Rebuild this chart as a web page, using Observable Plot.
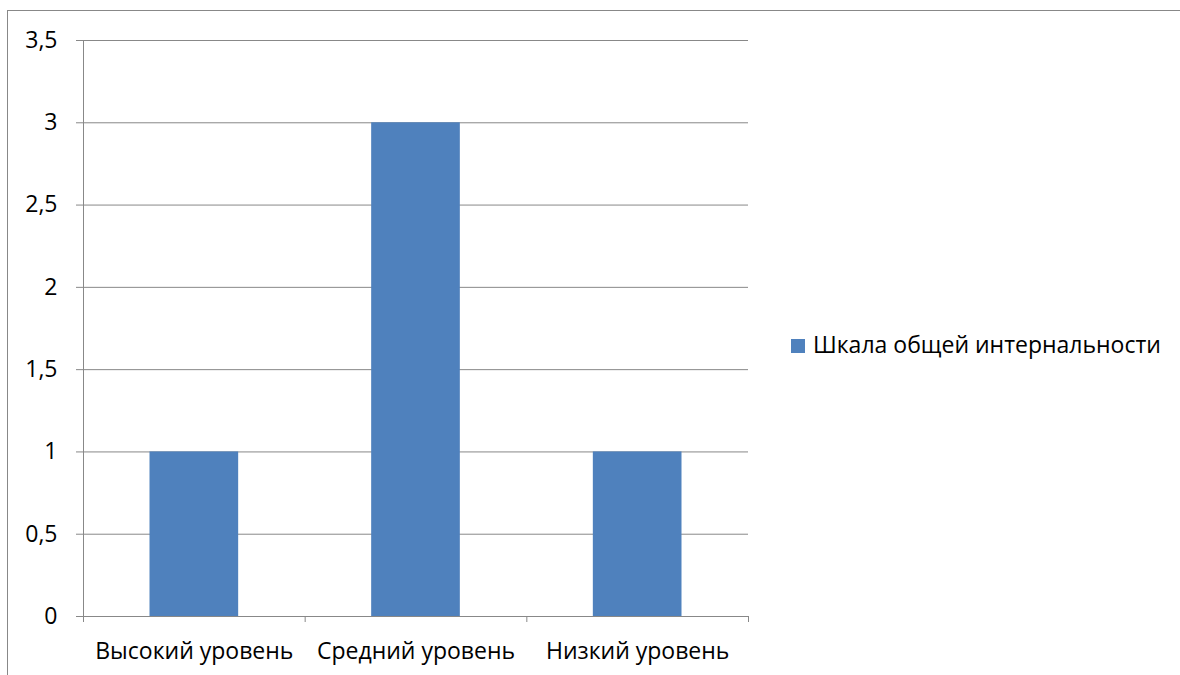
<!DOCTYPE html>
<html>
<head>
<meta charset="utf-8">
<script src="https://cdn.jsdelivr.net/npm/d3@7"></script>
<script src="https://cdn.jsdelivr.net/npm/@observablehq/plot@0.6"></script>
<style>
  html, body { margin: 0; padding: 0; background: #fff; overflow: hidden; }
  #wrap { position: relative; width: 1180px; height: 675px; font-family: "Open Sans", "Noto Sans", sans-serif; }
  #border { position: absolute; left: 7px; top: 10px; width: 1300px; height: 800px;
            border-top: 1px solid #888; border-left: 1px solid #888; pointer-events: none; }
  #legend-swatch { position: absolute; left: 791px; top: 339px; width: 14px; height: 14px; background: #4f81bd; }
  #legend-label { position: absolute; left: 813px; top: 329px; font-size: 23px; line-height: 30px;
                  color: #000; white-space: nowrap; }
</style>
</head>
<body>
<div id="wrap">
  <div id="border"></div>
  <div id="chart"></div>
  <div id="legend-swatch"></div>
  <div id="legend-label"></div>
</div>
<script>
// Levels of general internality and the count in each
const categories = ["Высокий уровень", "Средний уровень", "Низкий уровень"];
const values = [1, 3, 1];
const seriesName = "Шкала общей интернальности";
const yTicks = [0, 0.5, 1, 1.5, 2, 2.5, 3, 3.5];

const barColor = "#4f81bd";
const lineColor = "#888888";

// One row per category; x runs over the category slots [i, i + 1]
const rows = categories.map((name, i) => ({name, i, value: values[i]}));
const slotEdges = d3.range(categories.length + 1);
const slotCenters = categories.map((_, i) => i + 0.5);

const fmt = d => String(d).replace(".", ",");

const chart = Plot.plot({
  width: 1180,
  height: 675,
  marginLeft: 83,
  marginRight: 432,
  marginTop: 40,
  marginBottom: 59,
  style: {fontFamily: "'Open Sans', 'Noto Sans', sans-serif", fontSize: "23px", color: "#000", background: "transparent"},
  x: {type: "linear", domain: [0, categories.length]},
  y: {domain: [0, 3.5]},
  marks: [
    Plot.gridY(yTicks, {stroke: lineColor, strokeOpacity: 1, strokeWidth: 1}),
    Plot.rectY(rows, {x1: "i", x2: d => d.i + 1, y: "value", fill: barColor, insetLeft: 66.5, insetRight: 66.5}),
    Plot.ruleX([0], {stroke: lineColor, strokeWidth: 1}),
    Plot.ruleY([0], {stroke: lineColor, strokeWidth: 1}),
    Plot.axisY({ticks: yTicks, tickFormat: fmt, tickSize: 7, tickPadding: 19, stroke: lineColor, label: null, fill: "#000", fontSize: 23}),
    Plot.axisX({ticks: slotEdges, tickFormat: () => "", tickSize: 6, stroke: lineColor, label: null}),
    Plot.axisX({ticks: slotCenters, tickFormat: d => categories[Math.floor(d)], tickSize: 0, tickPadding: 26, label: null, fill: "#000", fontSize: 23})
  ]
});

document.getElementById("chart").appendChild(chart);
document.getElementById("legend-label").textContent = seriesName;
</script>
</body>
</html>
